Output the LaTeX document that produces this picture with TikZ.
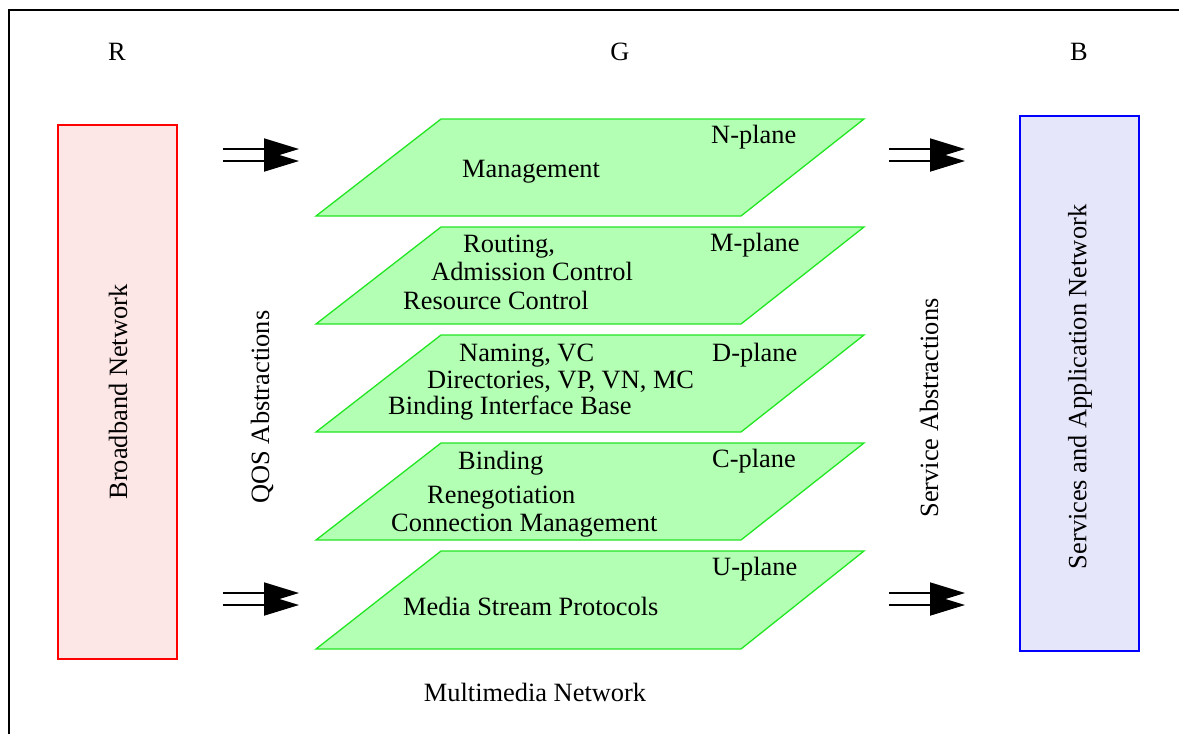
\documentclass[tikz,border=0pt]{standalone}
\usepackage{fontspec}
\setmainfont{Liberation Serif}
\usetikzlibrary{arrows.meta}
\definecolor{planefill}{HTML}{B3FFB3}
\definecolor{planeedge}{HTML}{22E622}
\definecolor{redfill}{HTML}{FDE6E6}
\definecolor{bluefill}{HTML}{E6E6FB}
\tikzset{
  txt/.style={inner sep=0pt, font=\fontsize{26.4}{31}\selectfont},
  lt/.style={txt, anchor=base west},
  plane/.style={fill=planefill, draw=planeedge, line width=1.3pt, line join=miter},
  dblarrow/.style={line width=1.8pt, -{Triangle[length=35pt,width=21pt]}},
}
\begin{document}
\begin{tikzpicture}[x=1pt,y=-1pt]
\useasboundingbox (0,0) rectangle (1179,734);
% frame
\draw[line width=2pt] (9,734) -- (9,10) -- (1179,10);
% headers
\node[txt, anchor=base] (R) at (117,60) {R};
\node[txt, anchor=base] (G) at (620,60) {G};
\node[txt, anchor=base] (B) at (1079,60) {B};
% side boxes
\draw[fill=redfill, draw=red, line width=1.5pt] (58,125) rectangle (177,659);
\node[txt, rotate=90] (bb) at (118,392) {Broadband Network};
\draw[fill=bluefill, draw=blue, line width=1.5pt] (1020,116) rectangle (1139,651);
\node[txt, rotate=90] (sa) at (1080,387) {Services and Application Network};
% abstractions
\node[txt, rotate=90] (qos) at (262,407) {QOS Abstractions};
\node[txt, rotate=90] (serv) at (929,408) {Service Abstractions};
\node[txt, anchor=base] (mm) at (535,701) {Multimedia Network};
% planes
\foreach \t/\b in {119/216, 227/324, 335/432, 443/540, 551/649}{
  \draw[plane] (441,\t) -- (864,\t) -- (741,\b) -- (316,\b) -- cycle;
}
% N-plane
\node[lt] (np) at (711,143) {N-plane};
\node[lt] (n1) at (462,177) {Management};
% M-plane
\node[lt] (mp) at (710,251) {M-plane};
\node[lt] (m1) at (463,252) {Routing,};
\node[lt] (m2) at (431,280) {Admission Control};
\node[lt] (m3) at (403,309) {Resource Control};
% D-plane
\node[lt] (dp) at (712,361) {D-plane};
\node[lt] (d1) at (459,361) {Naming, VC};
\node[lt] (d2) at (427,388) {Directories, VP, VN, MC};
\node[lt] (d3) at (388,414) {Binding Interface Base};
% C-plane
\node[lt] (cp) at (712,467) {C-plane};
\node[lt] (c1) at (458,469) {Binding};
\node[lt] (c2) at (427,503) {Renegotiation};
\node[lt] (c3) at (391,531) {Connection Management};
% U-plane
\node[lt] (up) at (712,575) {U-plane};
\node[lt] (u1) at (403,615) {Media Stream Protocols};
% arrows
\foreach \n/\xa/\xb/\ya/\yb in {lt/223/299/149/161, lb/223/299/593/605, rt/889/965/149/161, rb/889/965/593/605}{
  \coordinate (\n s1) at (\xa,\ya);
  \coordinate (\n e1) at (\xb,\ya);
  \coordinate (\n s2) at (\xa,\yb);
  \coordinate (\n e2) at (\xb,\yb);
  \draw[dblarrow] (\n s1) -- (\n e1);
  \draw[dblarrow] (\n s2) -- (\n e2);
}
\end{tikzpicture}
\end{document}
